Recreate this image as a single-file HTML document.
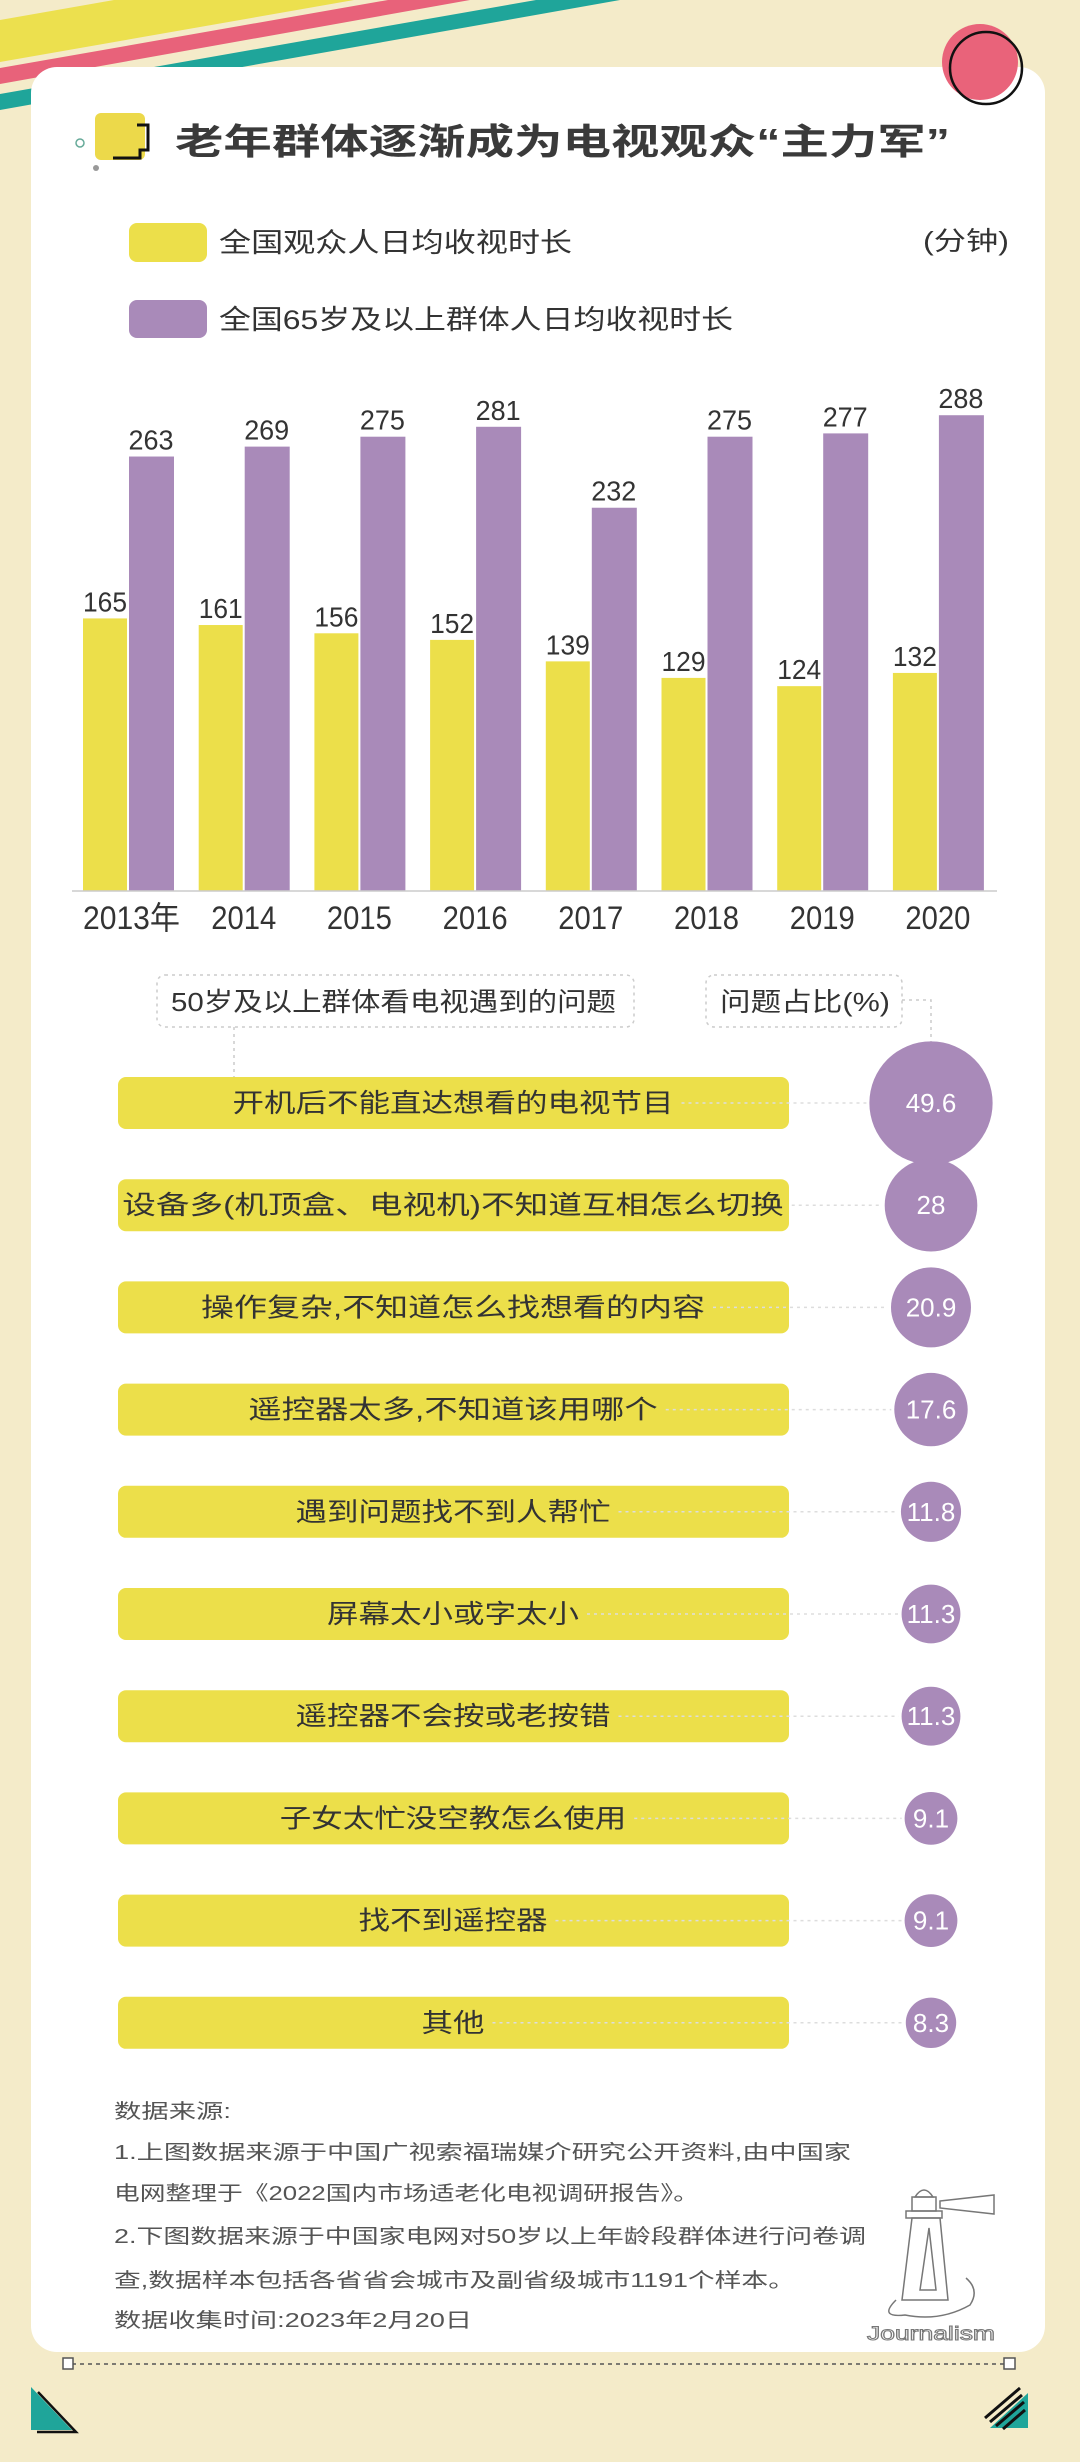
<!DOCTYPE html>
<html><head><meta charset="utf-8"><style>
html,body{margin:0;padding:0;background:#f4ebc9;}
svg{display:block;}
text{font-family:"Liberation Sans","Noto Sans CJK SC",sans-serif;}
</style></head><body>
<svg id="page" width="1080" height="2462" viewBox="0 0 1080 2462" xmlns="http://www.w3.org/2000/svg">
<rect width="1080" height="2462" fill="#f4ebc9"/>
<g>
<polygon points="0,20 114,0 354,0 0,62" fill="#ece04e"/>
<polygon points="0,68 388,0 470,0 0,84" fill="#e8627a"/>
<polygon points="0,94 536,0 620,0 0,110" fill="#1fa59a"/>
</g>
<rect x="31" y="67" width="1014" height="2285" rx="26" fill="#ffffff"/>
<g>
<circle cx="980" cy="62" r="38" fill="#e9637a"/>
<circle cx="986" cy="68" r="36" fill="none" stroke="#111" stroke-width="2.5"/>
</g>
<g>
<rect x="95" y="113" width="50" height="47" rx="6" fill="#ecd94a"/>
<path d="M137 125 L148 125 L148 150 L140 150 L140 158 L113 158" fill="none" stroke="#111" stroke-width="3"/>
<circle cx="80" cy="143" r="4" fill="none" stroke="#6a9" stroke-width="1.5"/>
<circle cx="96" cy="168" r="3" fill="#999"/>
</g>
<text x="175" y="154" font-size="36" font-weight="bold" fill="#3a3a3a" textLength="775" lengthAdjust="spacingAndGlyphs">老年群体逐渐成为电视观众“主力军”</text>

<rect x="129" y="223" width="78" height="39" rx="8" fill="#ecdf4a"/>
<text x="219" y="252" font-size="27" fill="#333" textLength="353" lengthAdjust="spacingAndGlyphs">全国观众人日均收视时长</text>
<rect x="129" y="300" width="78" height="38" rx="8" fill="#a98ab9"/>
<text x="219" y="329" font-size="27" fill="#333" textLength="514" lengthAdjust="spacingAndGlyphs">全国65岁及以上群体人日均收视时长</text>
<text x="923" y="250" font-size="26" fill="#333" textLength="86" lengthAdjust="spacingAndGlyphs">(分钟)</text>

<g id="bars"></g>
<line x1="72" y1="891" x2="997" y2="891" stroke="#ccc" stroke-width="1.5"/>

<g>
<rect x="157" y="975" width="477" height="52" rx="8" fill="none" stroke="#ccc" stroke-width="1.5" stroke-dasharray="3,4"/>
<text x="171" y="1011" font-size="26" fill="#333" textLength="445" lengthAdjust="spacingAndGlyphs">50岁及以上群体看电视遇到的问题</text>
<rect x="706" y="975" width="196" height="52" rx="8" fill="none" stroke="#ccc" stroke-width="1.5" stroke-dasharray="3,4"/>
<text x="720" y="1011" font-size="26" fill="#333" textLength="170" lengthAdjust="spacingAndGlyphs">问题占比(%)</text>
<path d="M234 1027 L234 1078" stroke="#ccc" stroke-width="1.5" stroke-dasharray="3,4" fill="none"/>
<path d="M902 1000 L931 1000 L931 1042" stroke="#ccc" stroke-width="1.5" stroke-dasharray="3,4" fill="none"/>
</g>
<g id="rows"></g>

<g fill="#555" font-size="20">
<text x="114" y="2118" textLength="117" lengthAdjust="spacingAndGlyphs">数据来源:</text>
<text x="114" y="2159" textLength="737" lengthAdjust="spacingAndGlyphs">1.上图数据来源于中国广视索福瑞媒介研究公开资料,由中国家</text>
<text x="114" y="2200" textLength="585" lengthAdjust="spacingAndGlyphs">电网整理于《2022国内市场适老化电视调研报告》。</text>
<text x="114" y="2243" textLength="752" lengthAdjust="spacingAndGlyphs">2.下图数据来源于中国家电网对50岁以上年龄段群体进行问卷调</text>
<text x="114" y="2287" textLength="681" lengthAdjust="spacingAndGlyphs">查,数据样本包括各省省会城市及副省级城市1191个样本。</text>
<text x="114" y="2327" textLength="358" lengthAdjust="spacingAndGlyphs">数据收集时间:2023年2月20日</text>
</g>

<g fill="none" stroke="#777" stroke-width="1.5">
<path d="M915 2197 Q924 2183 933 2197 Z"/>
<rect x="912" y="2197" width="24" height="14"/>
<path d="M940 2201 L994 2195 L994 2214 L940 2208 Z"/>
<rect x="906" y="2211" width="36" height="7"/>
<path d="M912 2218 L902 2300 L948 2300 L940 2218 Z"/>
<path d="M929 2228 L936 2290 L920 2290 Z"/>
<path d="M896 2300 Q878 2318 905 2315 Q940 2322 970 2305 Q980 2290 966 2278"/>
<text x="867" y="2340" font-size="19" fill="#fff" stroke="#777" stroke-width="1" textLength="128" lengthAdjust="spacingAndGlyphs">Journalism</text>
</g>

<g>
<line x1="72" y1="2364" x2="1005" y2="2364" stroke="#555" stroke-width="1.5" stroke-dasharray="4,4"/>
<rect x="63" y="2358" width="10" height="11" fill="#fff" stroke="#555" stroke-width="1.5"/>
<rect x="1004" y="2358" width="11" height="11" fill="#fff" stroke="#555" stroke-width="1.5"/>
</g>
<g>
<polygon points="31,2387 31,2430 72,2430" fill="#1fa59a"/>
<polyline points="38,2392 76,2432 37,2432" fill="none" stroke="#111" stroke-width="2.5"/>
<polygon points="1028,2393 1028,2428 990,2428" fill="#1fa59a"/>
<path d="M1020 2388 L985 2418 M1022 2395 L990 2422 M1024 2402 L996 2426 M1025 2410 L1003 2429" stroke="#111" stroke-width="3"/>
</g>
</svg>
<script>
const years = ["2013年","2014","2015","2016","2017","2018","2019","2020"];
const allViewers = [165,161,156,152,139,129,124,132];
const seniors = [263,269,275,281,232,275,277,288];
const problems = ["开机后不能直达想看的电视节目","设备多(机顶盒、电视机)不知道互相怎么切换","操作复杂,不知道怎么找想看的内容","遥控器太多,不知道该用哪个","遇到问题找不到人帮忙","屏幕太小或字太小","遥控器不会按或老按错","子女太忙没空教怎么使用","找不到遥控器","其他"];
const shares = [49.6,28,20.9,17.6,11.8,11.3,11.3,9.1,9.1,8.3];
const shareLabels = ["49.6","28","20.9","17.6","11.8","11.3","11.3","9.1","9.1","8.3"];

const NS = "http://www.w3.org/2000/svg";
function mk(tag, attrs, parent){const e=document.createElementNS(NS,tag);for(const k in attrs)e.setAttribute(k,attrs[k]);parent.appendChild(e);return e;}
const base = 891, perUnit = 1.652;
function yScale(v){return base - v*perUnit;}
function xGroup(i){return 83 + i*115.7;}
const bars = document.getElementById('bars');
years.forEach((yr,i)=>{
  const x = xGroup(i);
  const y1 = yScale(allViewers[i]);
  const b1 = mk('rect',{x:x,y:y1,width:44,height:base-y1,fill:'#ecdf4a'},bars);
  
  
  const y2 = yScale(seniors[i]);
  const b2 = mk('rect',{x:x+46,y:y2,width:45,height:base-y2,fill:'#a98ab9'},bars);
  
  
  const t1 = mk('text',{x:x+22,y:y1-7,'font-size':28,fill:'#333','text-anchor':'middle',textLength:44,lengthAdjust:'spacingAndGlyphs'},bars);
  t1.textContent = allViewers[i];
  
  
  const t2 = mk('text',{x:x+68,y:y2-7,'font-size':28,fill:'#333','text-anchor':'middle',textLength:45,lengthAdjust:'spacingAndGlyphs'},bars);
  t2.textContent = seniors[i];
  
  
  const w = i===0 ? 97 : 65;
  const tx = mk('text',{x:i===0? x : x+45-w/2,y:929,'font-size':32,fill:'#333',textLength:w,lengthAdjust:'spacingAndGlyphs'},bars);
  tx.textContent = yr;
  
  
});

const rows = document.getElementById('rows');
problems.forEach((p,i)=>{
  const cy = 1103 + i*102.2;
  const r = 8.75*Math.sqrt(shares[i]);
  const w = p.length*31.5;
  const g = mk('g',{},rows);
  
  
  const bar = mk('rect',{x:118,y:cy-26,width:671,height:52,rx:8,fill:'#ecdf4a'},g);
  
  
  const ln = mk('line',{x1:453+w/2+8,y1:cy,x2:931-r-3,y2:cy,stroke:'#ddd','stroke-width':1.5,'stroke-dasharray':'3,4'},g);
  
  
  const t = mk('text',{x:453,y:cy+9,'font-size':26,fill:'#333','text-anchor':'middle',textLength:w,lengthAdjust:'spacingAndGlyphs'},g);
  t.textContent = p;
  
  
  const c = mk('circle',{cx:931,cy:cy,r:r,fill:'#a98ab9'},g);
  
  
  const v = mk('text',{x:931,y:cy+9,'font-size':26,fill:'#fff','text-anchor':'middle'},g);
  v.textContent = shareLabels[i];
  
  
});
</script>
</body></html>
